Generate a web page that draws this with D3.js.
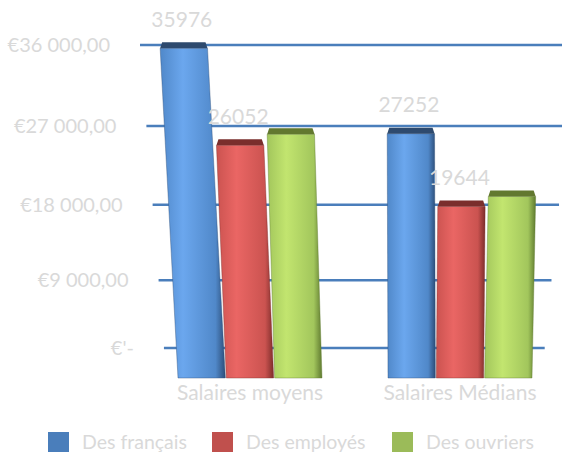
<!DOCTYPE html>
<html>
<head>
<meta charset="utf-8">
<script src="https://cdn.jsdelivr.net/npm/d3@7"></script>
<style>
  body { margin: 0; background: #fff; }
  text { font-family: Lato, "Open Sans", sans-serif; fill: #d9d9d9; }
</style>
</head>
<body>
<div id="chart"></div>
<script>
// Data
const categories = ["Salaires moyens", "Salaires Médians"];
const series = ["Des français", "Des employés", "Des ouvriers"];
const francais = [35976, 27252];
const employes = [26052, 19644];
const ouvriers = [27200, 20700];
const labelledSeries = ["Des français", "Des employés"];
const tickValues = [0, 9000, 18000, 27000, 36000];
const tickLabels = ["€'-", "€9 000,00", "€18 000,00", "€27 000,00", "€36 000,00"];

const WIDTH = 562, HEIGHT = 454;
const BASE_Y = 378;

// colours per series: flat, light, base, dark, top
const COLORS = [
  {flat: "#4a7ebb", light: "#6ba7ee", base: "#5088c9", dark: "#2c4d78", top: "#2e4a6e"},
  {flat: "#c0504d", light: "#ea6664", base: "#cb5350", dark: "#7d2d2b", top: "#7a2e2c"},
  {flat: "#9bbb59", light: "#c2e56f", base: "#a2c65c", dark: "#5f7a30", top: "#62782f"}
];

const values = [francais, employes, ouvriers];

const svg = d3.select("#chart")
  .append("svg")
    .attr("width", WIDTH)
    .attr("height", HEIGHT);

// back wall scale (gridlines) and front scale (bars), with a bit of perspective
const Y_BACK = d3.scalePow().exponent(1.08).domain([0, 36000]).range([348, 45]);
const Y_FRONT = d3.scalePow().exponent(1.08).domain([0, 36000]).range([BASE_Y, 48]);

const X_GROUP = d3.scalePoint().domain(categories).range([250, 460]);
const X_SERIES = d3.scaleBand().domain(series).range([-72, 72]).paddingInner(0.02);

// gradients
const defs = svg.append("defs");
COLORS.forEach((c, i) => {
  const g = defs.append("linearGradient")
    .attr("id", "grad" + i)
    .attr("x1", 0).attr("x2", 1).attr("y1", 0).attr("y2", 0);
  g.append("stop").attr("offset", 0).attr("stop-color", c.base);
  g.append("stop").attr("offset", 0.35).attr("stop-color", c.light);
  g.append("stop").attr("offset", 0.85).attr("stop-color", c.base);
  g.append("stop").attr("offset", 1).attr("stop-color", c.dark);
});

// gridlines + tick labels
const leftOf = (y) => 140 + (y - 45) * 0.079;
const rightOf = (y) => Math.min(562, 575 - (y - 45) * 0.1);

const grid = svg.append("g");
grid.selectAll("line")
  .data(tickValues)
  .enter()
  .append("line")
    .attr("x1", (d) => leftOf(Y_BACK(d)))
    .attr("x2", (d) => rightOf(Y_BACK(d)))
    .attr("y1", (d) => Y_BACK(d))
    .attr("y2", (d) => Y_BACK(d))
    .attr("stroke", "#4a7ebb")
    .attr("stroke-width", 2.5);

grid.selectAll("text")
  .data(tickValues)
  .enter()
  .append("text")
    .attr("x", (d) => leftOf(Y_BACK(d)) - 30)
    .attr("y", (d) => Y_BACK(d))
    .attr("dy", "0.35em")
    .attr("text-anchor", "end")
    .attr("font-size", 20)
    .text((d, i) => tickLabels[i]);

// bars
const bars = [];
categories.forEach((cat, ci) => {
  series.forEach((s, si) => {
    bars.push({cat: cat, series: s, si: si, value: values[si][ci]});
  });
});

const barGeom = (d) => {
  const w = X_SERIES.bandwidth();
  const x0 = X_GROUP(d.cat) + X_SERIES(d.series);
  const yTop = Y_FRONT(d.value);
  const cx = x0 + w / 2;
  const shift = (cx - 425) * 0.08 * ((BASE_Y - yTop) / 330);
  return {x0: x0, w: w, yTop: yTop, shift: shift};
};

const barG = svg.append("g");

// front faces
barG.selectAll(".front")
  .data(bars)
  .enter()
  .append("polygon")
    .attr("class", "front")
    .attr("points", (d) => {
      const g = barGeom(d);
      return [[g.x0, BASE_Y], [g.x0 + g.w, BASE_Y],
              [g.x0 + g.w + g.shift, g.yTop], [g.x0 + g.shift, g.yTop]].join(" ");
    })
    .attr("fill", (d) => "url(#grad" + d.si + ")")
    .attr("stroke", (d) => COLORS[d.si].dark)
    .attr("stroke-opacity", 0.4)
    .attr("stroke-width", 1);

// top faces
barG.selectAll(".top")
  .data(bars)
  .enter()
  .append("polygon")
    .attr("class", "top")
    .attr("points", (d) => {
      const g = barGeom(d);
      const L = g.x0 + g.shift, R = g.x0 + g.w + g.shift;
      return [[L, g.yTop], [R, g.yTop], [R - 2, g.yTop - 6], [L + 2, g.yTop - 6]].join(" ");
    })
    .attr("fill", (d) => COLORS[d.si].top);

// data labels
barG.selectAll(".lbl")
  .data(bars.filter((d) => labelledSeries.includes(d.series)))
  .enter()
  .append("text")
    .attr("class", "lbl")
    .attr("x", (d) => { const g = barGeom(d); return g.x0 + g.shift + g.w / 2 - 2; })
    .attr("y", (d) => Y_FRONT(d.value) - 29)
    .attr("dy", "0.35em")
    .attr("text-anchor", "middle")
    .attr("font-size", 21)
    .text((d) => d.value);

// category labels
svg.append("g").selectAll("text")
  .data(categories)
  .enter()
  .append("text")
    .attr("x", (d) => X_GROUP(d))
    .attr("y", 393)
    .attr("dy", "0.35em")
    .attr("text-anchor", "middle")
    .attr("font-size", 21)
    .text((d) => d);

// legend
const legendX = [48, 212, 392];
const legend = svg.append("g").selectAll("g")
  .data(series)
  .enter()
  .append("g")
    .attr("transform", (d, i) => "translate(" + legendX[i] + ",432)");

legend.append("rect")
  .attr("width", 21)
  .attr("height", 20)
  .attr("fill", (d, i) => COLORS[i].flat);

legend.append("text")
  .attr("x", 34)
  .attr("y", 10)
  .attr("dy", "0.35em")
  .attr("font-size", 19.5)
  .text((d) => d);
</script>
</body>
</html>
